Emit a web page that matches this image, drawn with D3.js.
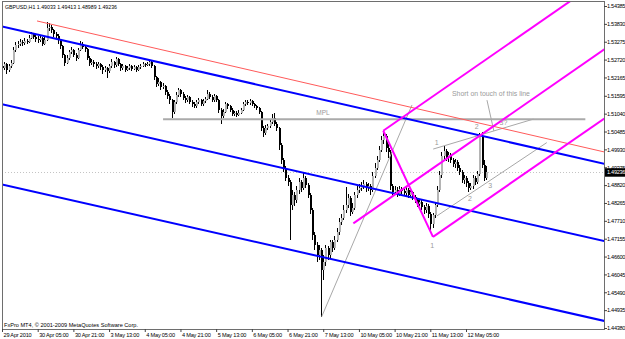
<!DOCTYPE html>
<html>
<head>
<meta charset="utf-8">
<script src="https://cdn.jsdelivr.net/npm/d3@7"></script>
<style>
  body { margin: 0; background: #fff; }
  svg { display: block; font-family: "Liberation Sans", Arial, sans-serif; }
</style>
</head>
<body>
<svg id="chart" width="625" height="339"></svg>
<script>
// GBPUSD H1, one bar per hour; open of a bar = close of the bar before
var firstOpen = 1.5252;

var closes = [
  1.5246, 1.5258, 1.5240, 1.5252, 1.5261, 1.5302, 1.5317, 1.5320, 1.5327, 1.5323,
  1.5330, 1.5327, 1.5339, 1.5351, 1.5342, 1.5336, 1.5333, 1.5339, 1.5320, 1.5333,
  1.5370, 1.5373, 1.5364, 1.5351, 1.5345, 1.5333, 1.5314, 1.5286, 1.5261, 1.5277,
  1.5296, 1.5302, 1.5286, 1.5277, 1.5302, 1.5320, 1.5311, 1.5305, 1.5277, 1.5261,
  1.5264, 1.5258, 1.5252, 1.5258, 1.5249, 1.5240, 1.5246, 1.5236, 1.5252, 1.5264,
  1.5255, 1.5274, 1.5258, 1.5246, 1.5252, 1.5240, 1.5246, 1.5252, 1.5243, 1.5249,
  1.5240, 1.5249, 1.5252, 1.5258, 1.5255, 1.5258, 1.5264, 1.5252, 1.5218, 1.5196,
  1.5202, 1.5187, 1.5190, 1.5171, 1.5159, 1.5146, 1.5109, 1.5140, 1.5162, 1.5177,
  1.5165, 1.5153, 1.5146, 1.5156, 1.5140, 1.5134, 1.5128, 1.5140, 1.5146, 1.5134,
  1.5143, 1.5149, 1.5165, 1.5156, 1.5146, 1.5159, 1.5146, 1.5115, 1.5097, 1.5109,
  1.5134, 1.5128, 1.5115, 1.5103, 1.5106, 1.5100, 1.5106, 1.5115, 1.5134, 1.5140,
  1.5137, 1.5143, 1.5134, 1.5128, 1.5122, 1.5109, 1.5059, 1.5044, 1.5059, 1.5066,
  1.5078, 1.5090, 1.5072, 1.5059, 1.5007, 1.4960, 1.4935, 1.4904, 1.4892, 1.4820,
  1.4851, 1.4836, 1.4867, 1.4892, 1.4873, 1.4904, 1.4882, 1.4851, 1.4805, 1.4727,
  1.4696, 1.4665, 1.4680, 1.4618, 1.4643, 1.4686, 1.4665, 1.4705, 1.4686, 1.4711,
  1.4736, 1.4767, 1.4780, 1.4805, 1.4820, 1.4842, 1.4798, 1.4811, 1.4851, 1.4867,
  1.4873, 1.4879, 1.4885, 1.4873, 1.4879, 1.4867, 1.4910, 1.4935, 1.4960, 1.4991,
  1.5022, 1.5035, 1.4997, 1.4985, 1.4879, 1.4861, 1.4867, 1.4854, 1.4870, 1.4864,
  1.4857, 1.4867, 1.4851, 1.4861, 1.4845, 1.4836, 1.4823, 1.4829, 1.4814, 1.4805,
  1.4817, 1.4792, 1.4761, 1.4789, 1.4820, 1.4867, 1.4913, 1.4972, 1.4988, 1.4966,
  1.4975, 1.4960, 1.4948, 1.4954, 1.4935, 1.4923, 1.4898, 1.4904, 1.4888, 1.4873,
  1.4879, 1.4904, 1.4892, 1.4916, 1.5035, 1.4944, 1.49033, 1.49236
];

var highs = [
  1.5261, 1.5264, 1.5261, 1.5258, 1.5271, 1.5311, 1.5327, 1.5330, 1.5336, 1.5333,
  1.5339, 1.5336, 1.5348, 1.5358, 1.5355, 1.5348, 1.5345, 1.5348, 1.5342, 1.5345,
  1.5389, 1.5386, 1.5379, 1.5367, 1.5358, 1.5351, 1.5336, 1.5317, 1.5289, 1.5286,
  1.5302, 1.5311, 1.5305, 1.5292, 1.5308, 1.5330, 1.5327, 1.5317, 1.5308, 1.5283,
  1.5274, 1.5271, 1.5264, 1.5264, 1.5261, 1.5255, 1.5252, 1.5249, 1.5258, 1.5274,
  1.5268, 1.5280, 1.5277, 1.5261, 1.5258, 1.5255, 1.5252, 1.5258, 1.5255, 1.5255,
  1.5252, 1.5255, 1.5258, 1.5264, 1.5261, 1.5264, 1.5271, 1.5268, 1.5255, 1.5221,
  1.5215, 1.5205, 1.5199, 1.5193, 1.5177, 1.5165, 1.5149, 1.5146, 1.5171, 1.5184,
  1.5181, 1.5171, 1.5159, 1.5162, 1.5159, 1.5146, 1.5140, 1.5146, 1.5153, 1.5149,
  1.5149, 1.5156, 1.5177, 1.5171, 1.5162, 1.5165, 1.5162, 1.5149, 1.5122, 1.5118,
  1.5140, 1.5137, 1.5131, 1.5122, 1.5112, 1.5112, 1.5115, 1.5122, 1.5140, 1.5146,
  1.5146, 1.5149, 1.5146, 1.5137, 1.5131, 1.5125, 1.5112, 1.5066, 1.5069, 1.5072,
  1.5084, 1.5103, 1.5106, 1.5078, 1.5062, 1.5013, 1.4966, 1.4941, 1.4913, 1.4898,
  1.4867, 1.4861, 1.4879, 1.4904, 1.4898, 1.4920, 1.4910, 1.4888, 1.4857, 1.4811,
  1.4736, 1.4705, 1.4696, 1.4686, 1.4665, 1.4696, 1.4693, 1.4711, 1.4711, 1.4724,
  1.4749, 1.4780, 1.4792, 1.4820, 1.4876, 1.4854, 1.4848, 1.4826, 1.4861, 1.4879,
  1.4885, 1.4892, 1.4898, 1.4892, 1.4888, 1.4885, 1.4923, 1.4951, 1.4972, 1.5003,
  1.5035, 1.5050, 1.5041, 1.5010, 1.4991, 1.4885, 1.4879, 1.4876, 1.4879, 1.4876,
  1.4873, 1.4876, 1.4873, 1.4867, 1.4864, 1.4851, 1.4842, 1.4839, 1.4836, 1.4820,
  1.4826, 1.4823, 1.4798, 1.4795, 1.4829, 1.4879, 1.4926, 1.4985, 1.5003, 1.4994,
  1.4985, 1.4982, 1.4966, 1.4963, 1.4960, 1.4944, 1.4929, 1.4913, 1.4910, 1.4895,
  1.4888, 1.4913, 1.4910, 1.4926, 1.5044, 1.5047, 1.4960, 1.49413
];

var lows = [
  1.5233, 1.5240, 1.5227, 1.5233, 1.5246, 1.5258, 1.5296, 1.5308, 1.5314, 1.5314,
  1.5317, 1.5320, 1.5323, 1.5336, 1.5336, 1.5327, 1.5323, 1.5327, 1.5314, 1.5317,
  1.5330, 1.5361, 1.5355, 1.5342, 1.5336, 1.5320, 1.5305, 1.5277, 1.5252, 1.5258,
  1.5271, 1.5289, 1.5280, 1.5268, 1.5274, 1.5299, 1.5305, 1.5296, 1.5271, 1.5252,
  1.5255, 1.5249, 1.5243, 1.5246, 1.5240, 1.5227, 1.5233, 1.5215, 1.5230, 1.5246,
  1.5246, 1.5249, 1.5252, 1.5236, 1.5240, 1.5233, 1.5236, 1.5240, 1.5236, 1.5240,
  1.5233, 1.5236, 1.5243, 1.5249, 1.5249, 1.5252, 1.5252, 1.5246, 1.5209, 1.5187,
  1.5190, 1.5177, 1.5181, 1.5162, 1.5149, 1.5134, 1.5090, 1.5103, 1.5134, 1.5156,
  1.5156, 1.5146, 1.5137, 1.5140, 1.5134, 1.5125, 1.5122, 1.5122, 1.5134, 1.5128,
  1.5128, 1.5137, 1.5146, 1.5149, 1.5140, 1.5140, 1.5140, 1.5106, 1.5072, 1.5090,
  1.5106, 1.5118, 1.5109, 1.5097, 1.5097, 1.5094, 1.5097, 1.5103, 1.5112, 1.5128,
  1.5131, 1.5131, 1.5128, 1.5122, 1.5115, 1.5103, 1.5050, 1.5031, 1.5038, 1.5053,
  1.5059, 1.5072, 1.5066, 1.5050, 1.4991, 1.4948, 1.4923, 1.4895, 1.4879, 1.4711,
  1.4805, 1.4817, 1.4826, 1.4854, 1.4861, 1.4867, 1.4873, 1.4842, 1.4792, 1.4711,
  1.4680, 1.4643, 1.4649, 1.4472, 1.4587, 1.4631, 1.4649, 1.4655, 1.4674, 1.4680,
  1.4705, 1.4727, 1.4758, 1.4773, 1.4795, 1.4811, 1.4786, 1.4792, 1.4805, 1.4842,
  1.4857, 1.4864, 1.4870, 1.4861, 1.4864, 1.4851, 1.4861, 1.4904, 1.4929, 1.4954,
  1.4985, 1.5010, 1.4985, 1.4966, 1.4867, 1.4848, 1.4851, 1.4845, 1.4848, 1.4854,
  1.4848, 1.4848, 1.4842, 1.4842, 1.4836, 1.4826, 1.4814, 1.4817, 1.4805, 1.4792,
  1.4795, 1.4780, 1.4742, 1.4749, 1.4780, 1.4814, 1.4861, 1.4904, 1.4960, 1.4957,
  1.4954, 1.4951, 1.4938, 1.4935, 1.4926, 1.4913, 1.4888, 1.4885, 1.4876, 1.4861,
  1.4867, 1.4870, 1.4882, 1.4885, 1.4910, 1.4935, 1.4895, 1.48989
];

var xTickBars = [0, 16, 32, 48, 64, 80, 96, 112, 128, 144, 160, 176, 192, 208];
var xTickLabels = ["29 Apr 2010", "30 Apr 05:00", "30 Apr 21:00", "3 May 13:00", "4 May 05:00",
  "4 May 21:00", "5 May 13:00", "6 May 05:00", "6 May 21:00", "7 May 13:00",
  "10 May 05:00", "10 May 21:00", "11 May 13:00", "12 May 05:00"];
var yTicks = [1.54385, 1.53830, 1.53275, 1.52720, 1.52165, 1.51595, 1.51040, 1.50485, 1.49930,
  1.49375, 1.48820, 1.48265, 1.47710, 1.47155, 1.46600, 1.46045, 1.45490, 1.44935, 1.44380];

// drawn objects, as [bar, price] end points
var blueLines = [
  [[0, 1.5375], [270, 1.4948]],
  [[0, 1.5133], [270, 1.4708]],
  [[0, 1.4884], [270, 1.4460]]
];
var redLine = [[15.7, 1.5392], [270, 1.4985]];
var mplLine = [[72.2, 1.5087], [261.5, 1.5087]];
var forkLines = [
  [[157.5, 1.4763], [270, 1.5304]],
  [[170.9, 1.5051], [270, 1.5527]],
  [[193.2, 1.4721], [270, 1.5089]],
  [[170.9, 1.5051], [193.2, 1.4721]]
];
var grayLines = [
  [[143.3, 1.4473], [183.8, 1.5131]],
  [[193.3, 1.4994], [238.2, 1.5087]],
  [[194.9, 1.4786], [244.2, 1.5014]],
  [[217.4, 1.5146], [220.5, 1.5050]]
];
var waveLabels = [
  [194.9, 1.5013, "1"], [212.8, 1.5065, "2"], [224.8, 1.5075, "3?"],
  [192.8, 1.4693, "1"], [209.8, 1.4841, "2"], [218.8, 1.4882, "3"]
];
var bid = 1.49236;

var svg = d3.select("#chart");
var x = d3.scaleLinear().domain([0, 208]).range([2, 466]);
var y = d3.scaleLinear().domain([1.44380, 1.54385]).range([328, 6]);

svg.append("defs").append("clipPath").attr("id", "plot")
  .append("rect").attr("x", 2).attr("y", 2).attr("width", 602).attr("height", 327);

var plot = svg.append("g").attr("clip-path", "url(#plot)");

// bid line
plot.append("line")
  .attr("x1", 2).attr("x2", 604).attr("y1", Math.round(y(bid)) + 0.5).attr("y2", Math.round(y(bid)) + 0.5)
  .attr("stroke", "#c4c4c4").attr("stroke-dasharray", "1,2");

var bars = closes.map(function (c, i) {
  return { i: i, o: i ? closes[i - 1] : firstOpen, h: highs[i], l: lows[i], c: c };
});

var candles = plot.append("g").attr("shape-rendering", "crispEdges");
candles.selectAll("line").data(bars).join("line")
  .attr("x1", d => Math.round(x(d.i)) + 0.5)
  .attr("x2", d => Math.round(x(d.i)) + 0.5)
  .attr("y1", d => y(d.h))
  .attr("y2", d => y(d.l))
  .attr("stroke", "#000");
candles.selectAll("rect").data(bars).join("rect")
  .attr("x", d => Math.round(x(d.i)))
  .attr("width", 2)
  .attr("y", d => y(Math.max(d.o, d.c)))
  .attr("height", d => Math.max(1, Math.abs(y(d.o) - y(d.c))))
  .attr("fill", d => d.c >= d.o ? "#b4b4b4" : "#000");

var line = d3.line().x(d => x(d[0])).y(d => y(d[1]));

plot.append("path").attr("d", line(mplLine))
  .attr("fill", "none").attr("stroke", "#aaa").attr("stroke-width", 2);

plot.selectAll(".gray").data(grayLines).join("path").attr("class", "gray")
  .attr("d", line).attr("fill", "none").attr("stroke", "#a8a8a8").attr("stroke-width", 1);

plot.append("path").attr("d", line(redLine))
  .attr("fill", "none").attr("stroke", "#ff5a5a").attr("stroke-width", 1);

plot.selectAll(".blue").data(blueLines).join("path").attr("class", "blue")
  .attr("d", line).attr("fill", "none").attr("stroke", "#0000ff").attr("stroke-width", 2);

plot.selectAll(".fork").data(forkLines).join("path").attr("class", "fork")
  .attr("d", line).attr("fill", "none").attr("stroke", "#ff00ff").attr("stroke-width", 2);

plot.selectAll(".wave").data(waveLabels).join("text").attr("class", "wave")
  .attr("x", d => x(d[0])).attr("y", d => y(d[1]))
  .attr("dy", "0.35em").attr("text-anchor", "middle")
  .attr("font-size", 7).attr("fill", "#9a9a9a")
  .text(d => d[2]);

plot.append("text").attr("x", x(143.9)).attr("y", y(1.5106)).attr("dy", "0.35em")
  .attr("text-anchor", "middle").attr("font-size", 6.5).attr("fill", "#9a9a9a").text("MPL");

plot.append("text").attr("x", x(201.7)).attr("y", y(1.5167)).attr("dy", "0.35em")
  .attr("font-size", 6.5).attr("fill", "#9a9a9a")
  .attr("textLength", 78).attr("lengthAdjust", "spacingAndGlyphs")
  .text("Short on touch of this line");

// frame
svg.append("rect").attr("x", 2.5).attr("y", 1.5).attr("width", 601.5).attr("height", 327.5)
  .attr("fill", "none").attr("stroke", "#6e6e6e").attr("shape-rendering", "crispEdges");

// price axis
var yAxis = svg.append("g").attr("transform", "translate(604,0)")
  .call(d3.axisRight(y).tickValues(yTicks).tickFormat(d3.format(".5f")).tickSize(3).tickPadding(0));
yAxis.select(".domain").remove();
yAxis.selectAll("line").attr("stroke", "#444");
yAxis.selectAll("text").attr("font-size", 5.6).attr("letter-spacing", -0.3)
  .attr("fill", "#000").attr("font-family", null);

// time axis
var xAxis = svg.append("g").attr("transform", "translate(0,329)")
  .call(d3.axisBottom(x).tickValues(xTickBars).tickFormat((d, i) => xTickLabels[i]).tickSize(3).tickPadding(1));
xAxis.select(".domain").remove();
xAxis.selectAll("line").attr("stroke", "#444");
xAxis.selectAll("text").attr("text-anchor", "start").attr("x", 1)
  .attr("font-size", 5.6).attr("letter-spacing", -0.2)
  .attr("fill", "#000").attr("font-family", null);

// bid marker
svg.append("rect").attr("x", 605).attr("y", y(bid) - 3.5).attr("width", 20).attr("height", 8.5).attr("fill", "#000");
svg.append("text").attr("x", 607).attr("y", y(bid) + 0.7).attr("dy", "0.35em")
  .attr("font-size", 5.6).attr("letter-spacing", -0.3).attr("fill", "#fff").text(d3.format(".5f")(bid));

svg.append("text").attr("x", 5).attr("y", 9).attr("font-size", 6).attr("fill", "#000")
  .attr("textLength", 112).attr("lengthAdjust", "spacingAndGlyphs")
  .text("GBPUSD,H1  1.49033 1.49413 1.48989 1.49236");
svg.append("text").attr("x", 4).attr("y", 326.5).attr("font-size", 6).attr("fill", "#000")
  .attr("textLength", 134).attr("lengthAdjust", "spacingAndGlyphs")
  .text("FxPro MT4, \u00a9 2001-2009 MetaQuotes Software Corp.");
</script>
</body>
</html>
